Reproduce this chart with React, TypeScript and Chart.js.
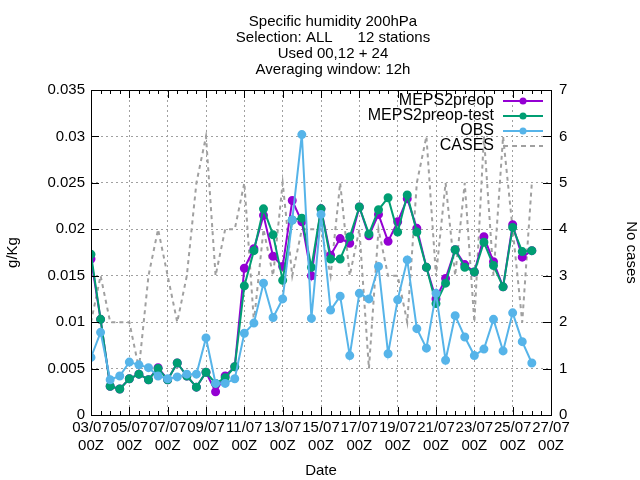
import React, { useEffect, useRef } from "react";
import { Chart, registerables } from "chart.js";
Chart.register(...registerables);

const dateTicks = ["03/07","05/07","07/07","09/07","11/07","13/07","15/07","17/07","19/07","21/07","23/07","25/07","27/07"];
const meps = [0.0168,0.0103,0.0031,0.0028,0.0039,0.0044,0.0038,0.0051,0.0038,0.0056,0.0042,0.0030,0.0046,0.0025,0.0042,0.0052,0.0158,0.0179,0.0215,0.0171,0.0160,0.0231,0.0208,0.0150,0.0222,0.0172,0.0190,0.0185,0.0224,0.0193,0.0216,0.0187,0.0208,0.0233,0.0201,0.0159,0.0125,0.0147,0.0178,0.0162,0.0154,0.0192,0.0165,0.0138,0.0205,0.0170,0.0177];
const mepsTest = [0.0173,0.0103,0.0031,0.0028,0.0039,0.0044,0.0038,0.0050,0.0038,0.0056,0.0042,0.0030,0.0046,0.0034,0.0040,0.0052,0.0139,0.0177,0.0222,0.0194,0.0145,0.0210,0.0212,0.0159,0.0222,0.0168,0.0168,0.0192,0.0224,0.0195,0.0221,0.0234,0.0197,0.0237,0.0197,0.0159,0.0120,0.0142,0.0178,0.0159,0.0154,0.0186,0.0161,0.0138,0.0202,0.0176,0.0177];
const obs = [0.0062,0.0089,0.0038,0.0042,0.0057,0.0054,0.0051,0.0042,0.0039,0.0041,0.0044,0.0044,0.0083,0.0034,0.0034,0.0039,0.0088,0.0099,0.0142,0.0105,0.0125,0.0210,0.0302,0.0104,0.0216,0.0113,0.0128,0.0064,0.0131,0.0125,0.0160,0.0066,0.0124,0.0167,0.0093,0.0072,0.0131,0.0059,0.0107,0.0084,0.0064,0.0071,0.0103,0.0069,0.0110,0.0079,0.0056];
const cases = [2,3,2,2,2,1,3,4,3,2,3,5,6,3,4,4,5,2,4,3,5,3,4,4,4,3,5,3,4,1,4,3,3,2,5,6,3,5,3,5,2,6,3,6,4,2,5];

const xy = (arr: number[]) => arr.map((v, i) => ({ x: i, y: v }));

export default function App() {
  const ref = useRef<HTMLCanvasElement>(null);
  useEffect(() => {
    document.body.style.margin = "0";
    const font = "'Liberation Sans', Arial, sans-serif";
    const deco = {
      id: "deco",
      afterDraw(c: any) {
        const ctx = c.ctx; const a = c.chartArea;
        ctx.save();
        ctx.fillStyle = "#000"; ctx.textAlign = "center"; ctx.font = `15px ${font}`;
        ["Specific humidity 200hPa", "Selection: ALL      12 stations", "Used 00,12 + 24", "Averaging window: 12h"].forEach((t, i) => ctx.fillText(t, 333, 26 + i * 16));
        ctx.strokeStyle = "#000"; ctx.lineWidth = 1;
        ctx.strokeRect(a.left + 0.5, a.top + 0.5, a.right - a.left, a.bottom - a.top);
        const xs = c.scales.x, yl = c.scales.y, yr = c.scales.y2;
        ctx.beginPath();
        for (let i = 0; i <= 48; i++) {
          const px = Math.round(xs.getPixelForValue(i)) + 0.5; const L = i % 4 === 0 ? 8 : 4;
          ctx.moveTo(px, a.bottom); ctx.lineTo(px, a.bottom - L);
          ctx.moveTo(px, a.top); ctx.lineTo(px, a.top + L);
        }
        for (let v = 0; v <= 0.035001; v += 0.005) {
          const py = Math.round(yl.getPixelForValue(v)) + 0.5;
          ctx.moveTo(a.left, py); ctx.lineTo(a.left + 8, py);
        }
        for (let v = 0; v <= 7; v++) {
          const py = Math.round(yr.getPixelForValue(v)) + 0.5;
          ctx.moveTo(a.right, py); ctx.lineTo(a.right - 8, py);
        }
        ctx.stroke();
        const items = [["MEPS2preop", "#9400d3", false], ["MEPS2preop-test", "#009e73", false], ["OBS", "#56b4e9", false], ["CASES", "#a0a0a0", true]];
        ctx.font = `16px ${font}`; ctx.textAlign = "right"; ctx.textBaseline = "middle";
        items.forEach((it: any, i) => {
          const y = 101 + i * 15;
          ctx.fillStyle = "#000"; ctx.fillText(it[0], 494, y);
          ctx.strokeStyle = it[1]; ctx.lineWidth = 2; ctx.setLineDash(it[2] ? [5, 4] : []);
          ctx.beginPath(); ctx.moveTo(503, y); ctx.lineTo(543, y); ctx.stroke();
          ctx.setLineDash([]);
          if (!it[2]) { ctx.fillStyle = it[1]; ctx.beginPath(); ctx.arc(523, y, 3.5, 0, Math.PI * 2); ctx.fill(); }
        });
        ctx.restore();
      },
    };
    const pt = (col: string, data: number[], order: number) => ({
      data: xy(data), borderColor: col, backgroundColor: col, borderWidth: 2, pointRadius: 3.5, pointStyle: "circle", yAxisID: "y", order,
    });
    const chart = new Chart(ref.current!, {
      type: "line",
      data: {
        datasets: [
          { ...pt("#9400d3", meps, 3), label: "MEPS2preop" },
          { ...pt("#009e73", mepsTest, 2), label: "MEPS2preop-test" },
          { ...pt("#56b4e9", obs, 1), label: "OBS" },
          { data: xy(cases), label: "CASES", borderColor: "#a0a0a0", borderWidth: 2, borderDash: [4, 4], pointRadius: 0, yAxisID: "y2", order: 4 } as any,
        ],
      },
      options: {
        animation: false, responsive: false,
        layout: { padding: { top: 90, right: 0, left: 0, bottom: 0 } },
        plugins: { legend: { display: false }, tooltip: { enabled: false } },
        scales: {
          x: {
            type: "linear", min: 0, max: 48,
            afterBuildTicks: (s: any) => { s.ticks = dateTicks.map((_, i) => ({ value: i * 4 })); },
            ticks: { color: "#000", font: { family: font, size: 15 }, maxRotation: 0, autoSkip: false, padding: 4, callback: (v: any) => [dateTicks[Math.round(v / 4)], "00Z"] as any },
            grid: { color: "#a0a0a0", drawTicks: false } as any,
            border: { display: false, dash: [2, 3] },
            title: { display: true, text: "Date", color: "#000", font: { family: font, size: 15 }, padding: { top: 2, bottom: 0 } },
            afterFit: (s: any) => { s.height = 65; },
          },
          y: {
            position: "left", min: 0, max: 0.035,
            afterBuildTicks: (s: any) => { s.ticks = [0, 0.005, 0.01, 0.015, 0.02, 0.025, 0.03, 0.035].map(v => ({ value: v })); },
            ticks: { color: "#000", font: { family: font, size: 15 }, padding: 6, callback: (v: any) => (v === 0 ? "0" : String(+v.toFixed(3))) },
            grid: { color: "#a0a0a0", drawTicks: false } as any,
            border: { display: false, dash: [2, 3] },
            title: { display: true, text: "g/Kg", color: "#000", font: { family: font, size: 15 } },
            afterFit: (s: any) => { s.width = 91; },
          },
          y2: {
            position: "right", min: 0, max: 7,
            ticks: { stepSize: 1, color: "#000", font: { family: font, size: 15 }, padding: 8 },
            grid: { display: false, drawTicks: false },
            border: { display: false },
            title: { display: true, text: "No cases", color: "#000", font: { family: font, size: 15 }, padding: { top: 0, bottom: 24 } },
            afterFit: (s: any) => { s.width = 89; },
          },
        },
      },
      plugins: [deco],
    });
    return () => chart.destroy();
  }, []);
  return <canvas ref={ref} width={640} height={480} style={{ display: "block" }} />;
}
